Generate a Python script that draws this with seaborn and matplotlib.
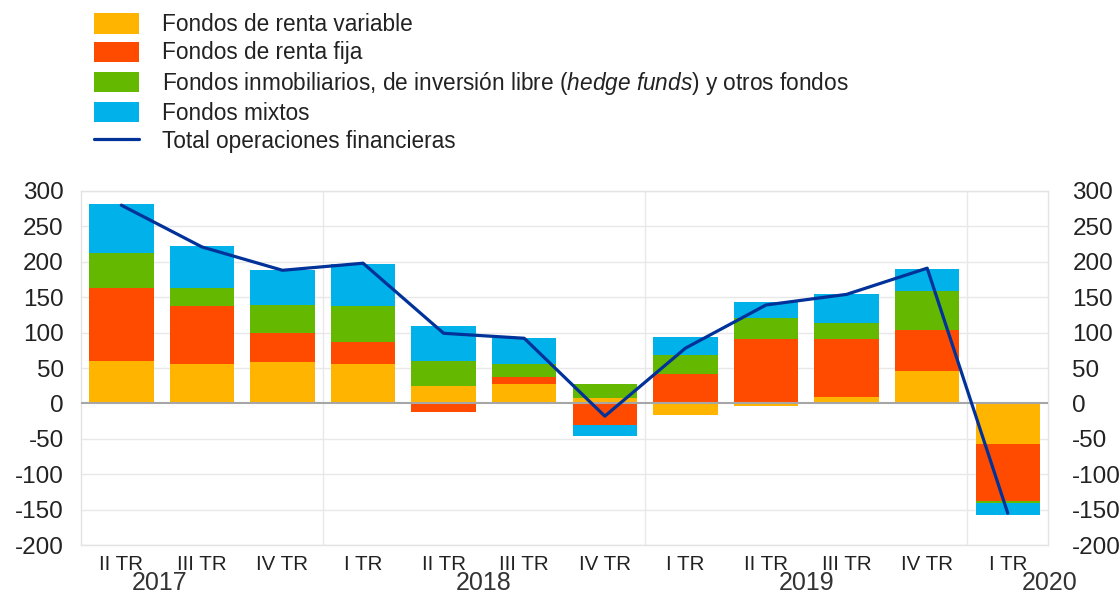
import numpy as np
import pandas as pd
import matplotlib.pyplot as plt
import matplotlib.transforms as mtransforms
from matplotlib.patches import Patch
from matplotlib.lines import Line2D
import seaborn as sns

# ── Data ────────────────────────────────────────────────
periodos = ['2017T2', '2017T3', '2017T4', '2018T1', '2018T2', '2018T3',
            '2018T4', '2019T1', '2019T2', '2019T3', '2019T4', '2020T1']
trimestres = ['II TR', 'III TR', 'IV TR', 'I TR', 'II TR', 'III TR',
              'IV TR', 'I TR', 'II TR', 'III TR', 'IV TR', 'I TR']
anios = ['2017', '2018', '2019', '2020']
anio_pos = [0.48, 4.5, 8.5, 11.52]

renta_variable = [60, 55, 58, 56, 24, 28, 8, -16, -4, 9, 46, -57]
renta_fija = [103, 82, 42, 31, -12, 9, -30, 42, 91, 82, 58, -81]
inmobiliarios = [49, 26, 39, 50, 36, 19, 19, 27, 30, 23, 55, -2]
mixtos = [70, 59, 49, 60, 50, 37, -16, 25, 22, 41, 31, -18]
total = [280, 221, 188, 198, 99, 92, -18, 78, 139, 154, 191, -155]

series = [
    ('Fondos de renta variable', renta_variable, '#FFB400'),
    ('Fondos de renta fija', renta_fija, '#FF4B00'),
    ('Fondos inmobiliarios, de inversión libre ($\\mathit{hedge\\ funds}$) y otros fondos',
     inmobiliarios, '#65B800'),
    ('Fondos mixtos', mixtos, '#00B1EA'),
]
color_total = '#003299'

# ── Style ───────────────────────────────────────────────
sns.set_style('white')
plt.rcParams['font.family'] = ['Liberation Sans', 'DejaVu Sans']
plt.rcParams['mathtext.fontset'] = 'custom'
plt.rcParams['mathtext.rm'] = 'Liberation Sans'
plt.rcParams['mathtext.it'] = 'Liberation Sans:italic'

fig = plt.figure(figsize=(11.19, 5.95), dpi=100)
ax = fig.add_axes([0.0724, 0.084, 0.8642, 0.595])

# ── Stacked bars (positives up, negatives down) ─────────
pos_base = np.zeros(len(periodos))
neg_base = np.zeros(len(periodos))
for label, vals, col in series:
    v = np.array(vals, dtype=float)
    bottom = np.where(v >= 0, pos_base, neg_base)
    sns.barplot(x=periodos, y=v, order=periodos, bottom=bottom, color=col,
                saturation=1, width=0.8, errorbar=None, linewidth=0,
                edgecolor='none', ax=ax, zorder=2)
    pos_base = pos_base + np.clip(v, 0, None)
    neg_base = neg_base + np.clip(v, None, 0)

# ── Total line ──────────────────────────────────────────
sns.lineplot(x=np.arange(len(total)), y=total, color=color_total,
             linewidth=2.3, ax=ax, zorder=4)

# ── Axes formatting ─────────────────────────────────────
yticks = np.arange(-200, 301, 50)
ax.set_xlim(-0.5, len(periodos) - 0.5)
ax.set_ylim(-200, 300)
ax.set_yticks(yticks)
ax.set_yticklabels([str(t) for t in yticks])
ax.set_xticks(np.arange(len(periodos)))
ax.set_xticklabels(trimestres)
ax.set_xlabel('')
ax.set_ylabel('')
for t in yticks:
    if t != 0:
        ax.axhline(t, color='#e8e8e8', lw=1, zorder=0)
ax.axhline(0, color='#a6a6a6', lw=1.5, zorder=3)
for xs in [2.5, 6.5, 10.5]:
    ax.axvline(xs, color='#e8e8e8', lw=1, zorder=0)
for side in ['left', 'right', 'top', 'bottom']:
    ax.spines[side].set_color('#e3e3e3')
    ax.spines[side].set_linewidth(1)
ax.tick_params(axis='y', length=0, pad=12.5, labelsize=17.5, labelcolor='#222222')
ax.tick_params(axis='x', length=6, color='#eeeeee', pad=1, labelsize=14.8,
               labelcolor='#222222')

ax2 = ax.twinx()
ax2.set_ylim(-200, 300)
ax2.set_yticks(yticks)
ax2.set_yticklabels([str(t) for t in yticks])
for side in ['left', 'right', 'top', 'bottom']:
    ax2.spines[side].set_visible(False)
ax2.tick_params(axis='y', length=0, pad=17.5, labelsize=17.5, labelcolor='#222222')

# Year labels under the quarter labels
trans = mtransforms.blended_transform_factory(ax.transData, ax.transAxes)
for a, xp in zip(anios, anio_pos):
    ax.text(xp, -0.108, a, transform=trans, ha='center', va='center',
            fontsize=18, color='#333333')

# ── Legend ──────────────────────────────────────────────
handles = [Patch(facecolor=c, edgecolor='none') for _, _, c in series]
handles.append(Line2D([0], [0], color=color_total, lw=2.3))
labels = [s[0] for s in series] + ['Total operaciones financieras']
fig.legend(handles, labels, loc='upper left', bbox_to_anchor=(0.076, 0.993),
           frameon=False, fontsize=16.3, handlelength=2.0, handleheight=1.0,
           handletextpad=0.98, labelspacing=0.23, borderaxespad=0,
           labelcolor='#222222')

plt.savefig('out.png', dpi=100)
